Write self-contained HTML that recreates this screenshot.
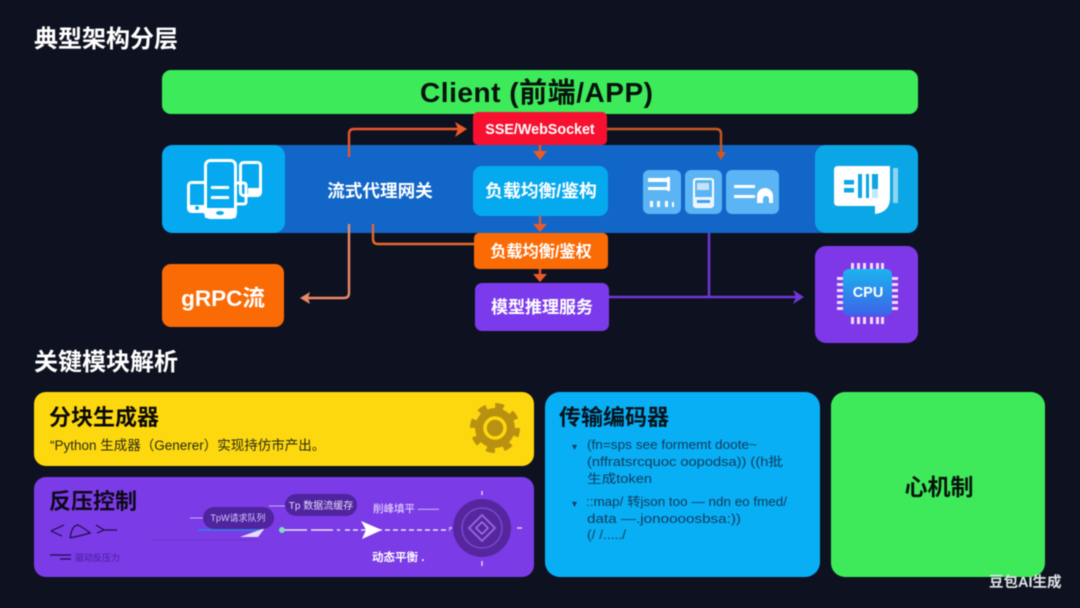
<!DOCTYPE html>
<html lang="zh"><head><meta charset="utf-8"><title>典型架构分层</title>
<style>
html,body{margin:0;padding:0;background:#0e1220}
svg{display:block;filter:blur(.4px)}
text{font-family:"Liberation Sans","Noto Sans CJK SC",sans-serif}
.b{font-weight:700}
</style></head><body>
<svg xmlns="http://www.w3.org/2000/svg" width="1080" height="608" viewBox="0 0 1080 608">
<rect width="1080" height="608" fill="#0e1220"/>
<text x="34" y="47" class="b" font-size="24" fill="#fff">典型架构分层</text>
<text x="34" y="370" class="b" font-size="24" fill="#fff">关键模块解析</text>

<rect x="162" y="70" width="756" height="44" rx="9" fill="#3dea5a"/>
<text x="420" y="102" class="b" font-size="28" fill="#07120c" textLength="233" lengthAdjust="spacing">Client (前端/APP)</text>

<rect x="162" y="145" width="756" height="88" rx="10" fill="#1166c8"/>
<rect x="162" y="145" width="123" height="88" rx="11" fill="#06a9ef"/>
<rect x="815" y="145" width="103" height="88" rx="11" fill="#0ba6e6"/>

<!-- device icon -->
<g fill="none" stroke="#fff" stroke-width="3">
<rect x="240.500" y="162.500" width="20" height="33" rx="3"/>
<rect x="188.500" y="182.500" width="18" height="29" rx="3"/>
<rect x="234" y="183" width="12" height="21" rx="2"/>
</g>
<rect x="205.500" y="160.500" width="30" height="57" rx="5" fill="#06a9ef" stroke="#fff" stroke-width="3"/>
<rect x="205" y="208" width="31" height="10" fill="#fff"/>
<rect x="211" y="186" width="18" height="3" fill="#fff"/><rect x="211" y="196" width="18" height="3" fill="#fff"/>
<rect x="189" y="205" width="16" height="7" fill="#fff"/>
<rect x="248" y="188" width="12" height="6" fill="#fff"/>
<ellipse cx="220" cy="213" rx="4" ry="2" fill="#06a9ef"/>
<circle cx="197" cy="208" r="2" fill="#06a9ef"/>

<text x="380" y="197" class="b" font-size="17.600" fill="#fff" text-anchor="middle">流式代理网关</text>

<rect x="473" y="112" width="134" height="33" rx="5" fill="#f7102f"/>
<text x="540" y="134" class="b" font-size="14.300" fill="#fff" text-anchor="middle">SSE/WebSocket</text>
<rect x="473" y="166" width="135" height="50" rx="9" fill="#05a9ee"/>
<text x="541" y="197" class="b" font-size="17.800" fill="#fff" text-anchor="middle">负载均衡/鉴构</text>
<rect x="474" y="233" width="134" height="36" rx="5" fill="#fa6a05"/>
<text x="541" y="257" class="b" font-size="16.200" fill="#fff" text-anchor="middle">负载均衡/鉴权</text>
<rect x="475" y="283" width="134" height="48" rx="7" fill="#7c3aed"/>
<text x="542" y="313" class="b" font-size="17" fill="#fff" text-anchor="middle">模型推理服务</text>

<rect x="162" y="264" width="122" height="63" rx="9" fill="#fa6a05"/>
<text x="223" y="306" class="b" font-size="22.500" fill="#fff" text-anchor="middle">gRPC流</text>

<!-- connectors -->
<g fill="none" stroke-width="2.400">
<path d="M349 157V134Q349 129 354 129H462" stroke="#e8572a"/>
<path d="M607 129H716Q721 129 721 134V152" stroke="#c9571f"/>
<path d="M540 145V152M540 216V226M540 269V275" stroke="#e8572a"/>
<path d="M349 224V293Q349 298 344 298H308" stroke="#ea8a68"/>
<path d="M373 224V239Q373 244 378 244H474" stroke="#e8682a"/>
<path d="M609 297H797M709 233V297" stroke="#6f37d8"/>
</g>
<g fill="#ee5a25">
<path d="M467 129L455 122L458 129L455 137Z"/>
<path d="M533 151H547L540 160Z"/>
<path d="M533 224H547L540 232Z"/>
<path d="M533 274H547L540 282Z"/>
<path d="M716 152H726L721 160Z" fill="#d4561f"/>
</g>
<path d="M300 298L310 292L308 298L310 304Z" fill="#ea8a68"/>
<path d="M804 297L793 290L796 297L793 304Z" fill="#6f37d8"/>

<!-- small tiles -->
<rect x="643" y="170" width="38" height="44" rx="6" fill="#5bb4f3"/>
<rect x="685" y="170" width="37" height="44" rx="6" fill="#5bb4f3"/>
<rect x="726" y="170" width="53" height="44" rx="6" fill="#5bb4f3"/>
<g fill="#fff">
<rect x="648" y="178" width="21" height="4"/><rect x="648" y="187" width="21" height="3"/>
<rect x="667" y="177" width="3" height="14"/>
<rect x="650" y="201" width="3" height="6"/><rect x="657" y="201" width="3" height="6"/><rect x="665" y="201" width="3" height="6"/><rect x="672" y="202" width="2" height="5"/>
<rect x="734" y="185" width="21" height="3"/><rect x="734" y="195" width="21" height="3"/>
<path d="M757 203v-7a8 8 0 0 1 16 0v7h-4v-4a3 3 0 0 0-6 0v4z"/>
</g>
<rect x="694" y="179" width="19" height="28" rx="2" fill="none" stroke="#fff" stroke-width="2"/>
<rect x="694" y="197" width="19" height="10" fill="#e8f4fe"/>
<rect x="697" y="200" width="13" height="3" fill="#4a9be8"/>
<rect x="697" y="183" width="12" height="7" fill="#c5e2fb"/>

<!-- right icon -->
<path d="M838 166Q834 166 834 170V202Q834 206 838 206H875V214Q890 212 890 198V166Z" fill="#fff"/>
<g fill="#0ba6e6">
<rect x="844" y="180" width="10" height="4.500"/><rect x="844" y="188" width="10" height="4.500"/>
<rect x="858" y="174" width="4" height="24"/><rect x="866" y="174" width="3" height="24"/><rect x="872" y="174" width="6" height="15"/>
<rect x="872" y="189" width="6" height="9" opacity=".25"/>
</g>
<rect x="893" y="168" width="5" height="35" fill="#8fd3ef"/>

<!-- cpu -->
<rect x="815" y="246" width="103" height="97" rx="11" fill="#7f38e8"/>
<g fill="#f0dcff">
<path d="M851 263h3v7h-3zM857 263h3v7h-3zM863 263h3v7h-3zM870 263h3v7h-3zM876 263h3v7h-3zM881 263h3v7h-3z"/>
<path d="M851 317h3v7h-3zM857 317h3v7h-3zM863 317h3v7h-3zM870 317h3v7h-3zM876 317h3v7h-3zM881 317h3v7h-3z"/>
<path d="M837 277h7v3h-7zM837 283h7v3h-7zM837 289h7v3h-7zM837 295h7v3h-7zM837 301h7v3h-7zM837 307h7v3h-7z"/>
<path d="M891 277h7v3h-7zM891 283h7v3h-7zM891 289h7v3h-7zM891 295h7v3h-7zM891 301h7v3h-7zM891 307h7v3h-7z"/>
</g>
<defs><linearGradient id="c" x1="0" y1="0" x2="0" y2="1"><stop offset="0" stop-color="#1cb4ee"/><stop offset="1" stop-color="#3d62e8"/></linearGradient></defs>
<rect x="843" y="269" width="49" height="47" rx="6" fill="url(#c)"/>
<text x="868" y="297" class="b" font-size="14.500" fill="#fff" text-anchor="middle">CPU</text>

<!-- yellow -->
<rect x="34" y="392" width="500" height="74" rx="12" fill="#fdd80f"/>
<text x="49" y="425" class="b" font-size="22" fill="#0a0a08">分块生成器</text>
<text x="50" y="450" font-size="13.500" fill="#2a2a14">“Python 生成器（Generer）实现持仿市产出。</text>
<circle cx="495" cy="428" r="20" fill="#b99110"/>
<circle cx="495" cy="428" r="22" fill="none" stroke="#b99110" stroke-width="6" stroke-dasharray="8.500 8.780"/>
<circle cx="495" cy="428" r="10" fill="none" stroke="#fdd80f" stroke-width="3.500"/>

<!-- purple -->
<rect x="34" y="477" width="500" height="100" rx="12" fill="#7b3be6"/>
<text x="49" y="509" class="b" font-size="22" fill="#0d0818">反压控制</text>
<g fill="none" stroke="#1d0c4a" stroke-width="1.200">
<path d="M51 531L64 525M51 531L62 536M70 538Q72 525 78 525Q84 528 90 533Q80 536 70 538M96 525L104 530L97 533M104 530H117"/>
<path d="M50 555H71M60 559H71"/>
</g>
<text x="75" y="561" font-size="9" fill="#3f1f98">驱动反压力</text>
<path d="M198 530H262" stroke="#3f71e8" stroke-width="2"/>
<path d="M152 540H258" stroke="#6a32cc" stroke-width="1"/>
<path d="M240 537L265 528L258 537Z" fill="#e4dcfb"/>
<rect x="203" y="507" width="71" height="22" rx="11" fill="#4f249e"/>
<rect x="285" y="494" width="72" height="22" rx="11" fill="#4f249e"/>
<text x="238" y="521" font-size="9" fill="#d8c8ff" text-anchor="middle">TpW请求队列</text>
<text x="321" y="509" font-size="10" fill="#e4d8ff" text-anchor="middle">Tp 数据流缓存</text>
<path d="M190 518H203M269 506H285" stroke="#c6aef8" stroke-width="1"/>
<circle cx="282" cy="530" r="3" fill="#7ee0b8"/>
<path d="M285 530H340" stroke="#ece6ff" stroke-width="1.600" stroke-dasharray="22 4"/>
<path d="M345 530H450" stroke="#ece6ff" stroke-width="1.400" stroke-dasharray="5 3"/>
<path d="M361 521L382 530L362 539L366 530Z" fill="#fff"/>
<text x="373" y="512" font-size="10.500" fill="#efe6ff">削峰填平 ——</text>
<text x="372" y="561" class="b" font-size="11.500" fill="#fff">动态平衡 .</text>
<circle cx="482" cy="528" r="29" fill="#56269f"/>
<circle cx="482" cy="528" r="20" fill="none" stroke="#7a48cc" stroke-width="1.500"/>
<path d="M482 515L495 528L482 541L469 528Z" fill="none" stroke="#8f62dc" stroke-width="2"/>
<path d="M482 522L488 528L482 534L476 528Z" fill="none" stroke="#9f78e4" stroke-width="1.500"/>
<path d="M482 491v4M482 561v5M517 528h5M449 528h3" stroke="#ddd0f8" stroke-width="1.500"/>

<!-- blue -->
<rect x="545" y="392" width="275" height="185" rx="15" fill="#08aff5"/>
<text x="559" y="425" class="b" font-size="22" fill="#06121c">传输编码器</text>
<g font-size="12.500" fill="#123a5c">
<text x="572" y="450" font-size="10">▾</text>
<text x="587" y="449" textLength="170" lengthAdjust="spacingAndGlyphs">(fn=sps see formemt doote~</text>
<text x="587" y="466" textLength="196" lengthAdjust="spacingAndGlyphs">(nffratsrcquoc oopodsa))  ((h批</text>
<text x="587" y="483" textLength="65" lengthAdjust="spacingAndGlyphs">生成token</text>
<text x="572" y="507" font-size="10">▾</text>
<text x="586" y="506" textLength="201" lengthAdjust="spacingAndGlyphs">::map/ 转json too — ndn eo fmed/</text>
<text x="587" y="523" textLength="154" lengthAdjust="spacingAndGlyphs">data —.jonoooosbsa:))</text>
<text x="587" y="539" textLength="39" lengthAdjust="spacingAndGlyphs">(/ /...../</text>
</g>

<!-- green -->
<rect x="831" y="392" width="214" height="185" rx="14" fill="#3eea5a"/>
<text x="939" y="495" class="b" font-size="23" fill="#07140c" text-anchor="middle">心机制</text>

<text x="989" y="587" class="b" font-size="14.500" fill="#dfe3e6">豆包AI生成</text>
</svg>
</body></html>
